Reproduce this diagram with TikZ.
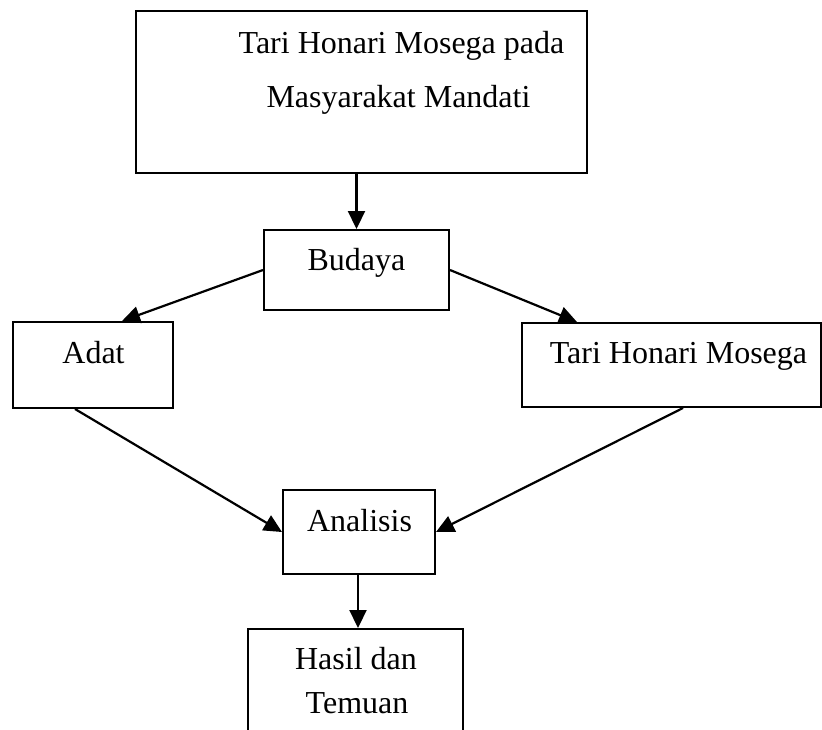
\documentclass[tikz,border=0pt]{standalone}
\usepackage{fontspec}
\setmainfont{Liberation Serif}
\usetikzlibrary{arrows.meta}

\begin{document}
\begin{tikzpicture}[x=1pt, y=-1pt,
  box/.style={draw, line width=2pt, inner sep=0pt},
  txt/.style={anchor=base, inner sep=0pt, font=\fontsize{32}{38}\selectfont},
  arr/.style={-{Triangle[length=18pt, width=17pt]}, line width=2.2pt}]

  \useasboundingbox (0,0) rectangle (822,729);
  \clip (0,0) rectangle (822,729);

  % boxes
  \node[box, minimum width=451pt, minimum height=162pt] (top) at (361.5,92) {};
  \node[box, minimum width=185pt, minimum height=80pt] (budaya) at (356.5,270) {};
  \node[box, minimum width=160pt, minimum height=86pt] (adat) at (93,365) {};
  \node[box, minimum width=299pt, minimum height=84pt] (tari) at (671.5,365) {};
  \node[box, minimum width=152pt, minimum height=84pt] (analisis) at (359,532) {};
  \node[box, minimum width=215pt, minimum height=140pt] (hasil) at (355.5,699) {};

  % texts
  \node[txt] (top-a) at (401.5,53) {Tari Honari Mosega pada};
  \node[txt] (top-b) at (398.5,107) {Masyarakat Mandati};
  \node[txt] (budaya-t) at (356.5,270) {Budaya};
  \node[txt] (adat-t) at (93.5,363) {Adat};
  \node[txt] (tari-t) at (678.5,363) {Tari Honari Mosega};
  \node[txt] (analisis-t) at (359.5,531) {Analisis};
  \node[txt] (hasil-a) at (356,669) {Hasil dan};
  \node[txt] (hasil-b) at (357,713) {Temuan};

  % arrows
  \draw[arr] (budaya.north |- top.south) -- (budaya.north); %% top -> Budaya
  \draw[arr] (budaya.west) -- ([xshift=29pt]adat.north); %% Budaya -> Adat
  \draw[arr] (budaya.east) -- ([xshift=-94.5pt]tari.north); %% Budaya -> Tari
  \draw[arr] ([xshift=-18pt]adat.south) -- (analisis.west); %% Adat -> Analisis
  \draw[arr] ([xshift=11.5pt]tari.south) -- (analisis.east); %% Tari -> Analisis
  \draw[arr] ([xshift=-1pt]analisis.south) -- ([xshift=-1pt]analisis.south |- hasil.north); %% Analisis -> Hasil

\end{tikzpicture}
\end{document}
